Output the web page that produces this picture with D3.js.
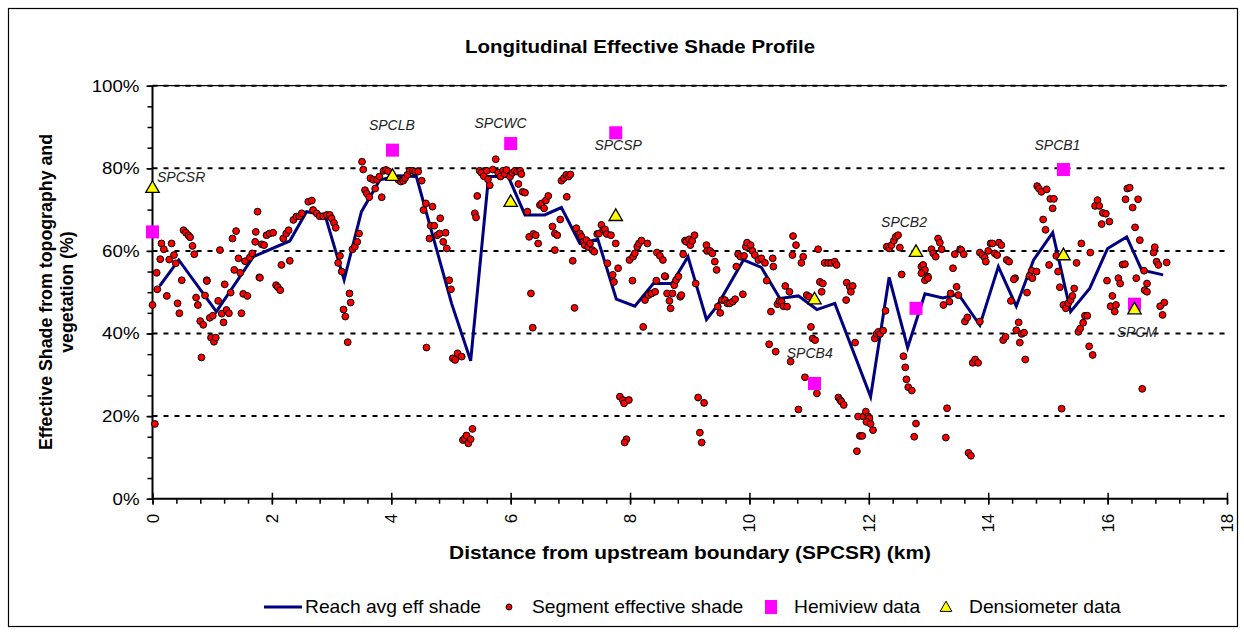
<!DOCTYPE html>
<html><head><meta charset="utf-8">
<script src="https://cdn.jsdelivr.net/npm/d3@7"></script>
<style>body{margin:0;background:#fff}svg{display:block}text{font-family:Arial,"Liberation Sans",sans-serif}</style>
</head><body><svg id="c" width="1244" height="634"></svg>
<script>
const xTicks = [0,2,4,6,8,10,12,14,16,18];
const yTicks = [0,20,40,60,80,100];
const reachLine = [[0.12,51.5],[0.44,57.8],[1.07,45.3],[1.69,58.6],[2.30,62.4],[2.58,69.5],[2.89,68.7],[3.21,53.0],[3.50,69.5],[3.81,77.2],[4.12,78.2],[4.42,78.0],[5.01,47.3],[5.33,33.4],[5.63,78.0],[5.96,78.0],[6.24,68.7],[6.57,68.7],[6.85,70.5],[7.16,61.8],[7.46,62.8],[7.77,48.3],[8.08,46.6],[8.39,52.1],[8.70,52.1],[8.97,58.6],[9.28,43.4],[9.45,46.5],[9.90,57.8],[10.20,56.0],[10.51,48.5],[10.82,49.1],[11.13,45.8],[11.43,47.3],[12.03,24.7],[12.34,53.6],[12.65,36.6],[12.94,49.6],[13.24,48.6],[13.50,49.5],[13.86,42.0],[14.17,56.2],[14.47,46.6],[14.76,57.8],[15.08,64.4],[15.38,45.3],[15.70,50.9],[16.00,60.6],[16.32,63.4],[16.57,55.4],[16.93,54.2]];
const segmentPoints = [[0.07,54.7],[0.15,61.8],[0.19,60.4],[0.13,58.0],[0.28,57.9],[0.32,61.8],[0.36,59.0],[0.39,57.0],[0.52,65.0],[0.56,64.4],[0.60,63.8],[0.63,63.3],[0.67,61.2],[0.70,59.2],[0.91,52.9],[1.13,60.2],[1.34,63.0],[1.40,64.8],[1.37,55.4],[1.47,54.7],[1.44,58.2],[1.55,57.5],[1.63,58.4],[1.67,59.4],[1.72,62.2],[1.76,69.5],[1.73,64.6],[1.79,53.6],[1.83,61.6],[1.87,61.4],[1.91,63.8],[1.96,64.2],[2.02,64.4],[2.16,56.6],[2.19,63.0],[2.24,64.2],[2.28,65.0],[2.30,57.6],[2.36,67.5],[2.41,68.3],[2.46,68.4],[2.50,69.1],[2.61,71.9],[2.67,72.2],[2.69,69.9],[2.75,69.1],[2.80,68.4],[2.86,68.4],[2.92,68.7],[2.97,68.7],[3.00,67.9],[3.04,66.8],[3.07,65.6],[3.11,57.1],[3.14,58.8],[3.17,55.0],[3.35,60.4],[3.39,61.0],[3.43,62.2],[3.46,64.2],
[0.00,46.9],[0.08,50.7],[0.04,18.1],[0.24,49.1],[0.42,47.3],[0.45,44.9],[0.49,52.9],[0.73,48.7],[0.76,46.9],[0.80,43.0],[0.85,42.1],[0.82,34.2],[0.91,52.7],[0.88,49.2],[0.96,43.8],[1.01,44.3],[0.98,39.0],[1.03,38.0],[1.06,39.0],[1.10,47.9],[1.16,44.8],[1.19,42.7],[1.21,51.9],[1.24,45.7],[1.28,44.9],[1.31,49.9],[1.49,44.9],[1.52,49.6],[1.59,49.1],[1.80,53.5],[2.07,51.7],[2.10,51.2],[2.14,50.5],[3.20,45.8],[3.23,44.1],[3.27,37.9],[3.30,49.7],[3.32,47.5],
[3.51,81.6],[3.53,79.7],[3.56,74.7],[3.59,73.9],[3.63,73.0],[3.65,77.6],[3.70,77.2],[3.73,75.1],[3.76,77.2],[3.80,78.0],[3.84,73.0],[3.87,79.4],[3.91,79.6],[3.95,79.3],[4.12,77.2],[4.16,76.8],[4.20,77.0],[4.23,77.6],[4.27,78.4],[4.31,79.4],[4.36,79.4],[4.40,79.2],[4.45,79.2],[4.51,77.0],[4.54,69.9],[4.58,71.5],[4.69,70.7],[4.64,63.0],[4.66,66.1],[4.72,66.1],[4.77,63.8],[4.82,67.9],[4.81,64.2],[4.87,62.2],[4.91,64.4],[4.93,60.6],[5.40,69.1],[5.42,68.1],[5.44,73.3],[5.48,79.4],[5.51,78.9],[5.55,78.1],[5.60,79.4],[5.62,77.3],[5.65,75.9],[5.70,79.7],[5.75,82.2],[5.79,78.9],[5.83,78.0],[5.87,79.4],[5.90,78.6],[5.93,79.6],[5.99,78.0],[6.03,78.9],[6.07,79.4],[6.11,79.2],[6.16,79.4],[6.18,78.6],[6.13,76.2],[6.20,74.3],[6.24,74.1],[6.28,69.5],[6.31,63.4],[6.38,64.1],[6.42,63.8],[6.46,61.8],[6.49,71.1],[6.52,71.5],[6.56,70.3],[6.59,72.2],[6.63,73.3],[6.70,65.9],[6.74,64.2],[6.78,63.8],[6.83,67.6],[6.85,77.0],[6.89,77.6],[6.93,78.4],[6.97,78.0],[7.00,78.5],[6.94,73.1],[6.74,60.2],[7.04,57.6],[7.10,65.5],[7.16,64.2],[7.19,63.4],[7.22,62.2],[7.24,61.4],[7.27,62.6],[7.30,60.9],[7.33,61.8],[7.37,60.2],[7.40,59.8],[7.45,64.1],[7.48,64.2],[7.52,66.3],[7.55,65.1],[7.58,65.2],[7.61,64.1],[7.62,57.0],[7.68,63.8],[7.71,54.2],[7.76,61.8],[7.80,55.8],[7.99,57.8],[8.05,58.6],[8.08,59.4],[8.12,61.0],[8.15,61.8],
[4.59,36.6],[4.97,52.9],[5.00,50.7],[5.03,34.0],[5.07,33.6],[5.11,35.2],[5.18,34.4],[5.20,14.2],[5.23,14.6],[5.26,15.3],[5.29,13.4],[5.33,14.4],[5.36,16.9],[6.34,49.7],[6.37,41.4],[7.07,46.2],[7.73,52.5],[7.83,24.7],[7.88,23.9],[7.90,23.1],[7.98,23.9],[7.94,14.4],[7.91,13.6],[8.04,52.8],
[8.19,62.5],[8.29,61.8],[8.45,59.6],[8.50,58.8],[8.55,57.8],[8.59,53.8],[8.89,59.2],[8.92,62.5],[8.94,62.2],[8.99,62.8],[9.01,61.4],[9.04,62.4],[9.08,63.8],[9.28,61.4],[9.29,60.0],[9.34,60.0],[9.38,59.4],[9.42,57.4],[9.45,55.4],[9.78,56.2],[9.81,59.2],[9.85,58.6],[9.91,58.8],[9.94,61.0],[9.96,62.0],[10.02,61.4],[10.05,60.0],[10.09,59.0],[10.15,57.8],[10.20,58.2],[10.26,57.1],[10.39,58.2],[10.40,56.2],[10.73,63.6],[10.78,61.4],[10.72,59.0],[10.87,57.1],[10.90,58.6],[11.15,60.4],[11.26,57.1],[11.32,57.1],[11.37,57.1],[11.43,57.4],[11.46,56.6],[12.30,61.0],[12.34,60.6],[12.38,61.4],[12.42,62.5],[12.45,63.4],[12.49,63.8],[12.52,60.8],[12.55,54.3],
[8.22,41.6],[8.25,48.1],[8.31,49.3],[8.36,49.7],[8.42,50.1],[8.44,52.8],[8.58,53.9],[8.62,49.7],[8.66,47.9],[8.68,46.1],[8.71,49.7],[8.74,51.7],[8.77,52.9],[8.81,53.8],[8.84,48.9],[8.86,49.3],[9.10,52.1],[9.47,46.5],[9.51,45.0],[9.54,48.1],[9.59,48.1],[9.63,47.3],[9.67,47.3],[9.72,47.7],[9.76,48.3],[9.89,49.5],[9.14,24.5],[9.24,23.2],[9.17,16.0],[9.20,13.6],[10.29,52.8],[10.36,45.3],[10.47,47.1],[10.50,47.9],[10.54,47.7],[10.57,46.6],[10.63,46.5],[10.60,51.5],[10.67,50.1],[10.33,37.4],[10.44,35.6],[10.69,33.2],[10.82,21.6],[10.93,29.4],[11.03,41.6],[11.06,38.8],[11.10,38.4],[10.96,49.3],[11.00,48.9],[11.13,25.5],[11.18,52.5],[11.23,52.1],[11.21,50.1],[11.49,24.5],[11.52,23.9],[11.54,23.5],[11.58,22.7],[11.63,52.3],[11.68,51.3],[11.73,51.5],[11.70,50.1],[11.62,48.1],[11.77,37.8],[11.80,11.5],[11.82,19.9],[11.85,15.2],[11.89,15.2],[11.91,19.9],[11.95,21.1],[11.99,19.9],[12.01,19.5],[11.96,18.6],[12.03,18.1],[12.07,16.6],[12.10,38.8],[12.13,39.9],[12.16,40.4],[12.19,39.9],[12.24,40.7],[12.28,45.5],[12.58,34.5],[12.61,31.8],[12.63,28.9],[12.66,27.0],[12.72,26.2],[12.79,18.2],[12.76,15.0],
[12.88,56.2],[12.91,56.6],[12.94,55.4],[12.99,53.8],[13.05,60.4],[13.08,59.4],[13.12,58.6],[13.16,63.0],[13.19,62.0],[13.22,60.4],[13.41,55.8],[13.44,59.2],[13.53,60.4],[13.55,60.2],[13.59,59.2],[13.86,59.6],[13.90,59.0],[13.94,58.4],[13.96,57.4],[14.00,60.0],[14.04,61.8],[14.07,61.8],[14.11,59.4],[14.15,59.0],[14.18,62.0],[14.22,61.4],[14.31,57.8],[14.35,57.4],[14.45,53.4],[14.73,55.2],[14.81,55.0],[14.82,75.7],[14.85,75.1],[14.89,74.3],[14.98,74.9],[15.04,72.6],[15.10,72.6],[15.08,70.3],[14.92,67.6],[14.96,65.1],[15.02,56.6],[15.14,58.8],[15.17,55.0],[15.48,57.1],[15.56,61.8],[15.71,59.6],[15.79,70.9],[15.83,72.3],[15.86,70.9],[15.92,69.2],[15.97,69.0],[15.90,66.5],[16.03,67.1],[16.25,56.7],[16.29,56.8],[16.30,72.5],[16.33,75.1],[16.37,75.3],[16.42,70.5],[16.51,72.5],[16.46,65.7],[16.54,62.6],[16.61,55.2],[16.77,59.6],[16.79,60.9],[16.82,57.4],[16.85,56.6],[16.99,57.2],[16.48,53.4],
[12.88,54.6],[12.94,52.9],[12.99,53.4],[13.25,46.9],[13.35,47.7],[13.37,49.7],[13.47,51.3],[13.50,49.3],[13.61,42.9],[13.65,43.9],[13.86,42.9],[13.31,21.9],[13.29,14.8],[13.67,11.1],[13.71,10.4],[13.74,32.9],[13.78,33.7],[13.83,32.9],[14.25,38.4],[14.29,39.2],[14.43,53.1],[14.38,47.9],[14.47,40.8],[14.51,42.7],[14.53,37.8],[14.56,39.9],[14.60,40.2],[14.62,33.7],[14.65,49.9],[14.69,53.9],[14.74,53.4],[15.20,51.2],[15.23,21.8],[15.26,46.9],[15.30,46.1],[15.34,47.3],[15.38,48.1],[15.41,49.1],[15.44,50.9],[15.51,40.4],[15.54,41.2],[15.59,42.6],[15.62,44.3],[15.66,44.3],[15.69,36.9],[15.75,34.8],[15.99,52.8],[16.18,53.4],[16.21,52.1],[16.08,49.1],[16.05,46.6],[16.14,46.9],[16.12,45.3],[16.66,52.1],[16.62,50.5],[16.66,50.1],[16.58,26.6],[16.88,46.6],[16.95,47.5],[16.92,44.5]];
const siteNames = ["SPCSR","SPCLB","SPCWC","SPCSP","SPCB4","SPCB2","SPCB1","SPCM"];
const siteKm = [0,4.02,6.0,7.76,11.09,12.79,15.26,16.45];
const hemiviewPct = [64.6,84.4,86.0,88.6,27.9,46.1,79.7,47.1];
const densiometerPct = [75.1,78.0,71.7,68.3,48.1,59.6,58.8,45.7];
// where each site name is written (centre of the label, in chart units)
const labelKm = [0.48,4.01,5.83,7.80,11.01,12.59,15.16,16.49];
const labelPct = [78.0,90.4,90.9,85.6,35.2,67.1,85.6,40.4];

const svg = d3.select("#c");
const L = 152.5, R = 1227, T = 85.7, B = 498.7;
const SX = 1.1; // horizontal stretch of the reference's lettering
const x = d3.scaleLinear().domain([0,18]).range([L,R]);
const y = d3.scaleLinear().domain([0,100]).range([B,T]);

function stext(g, px, py, str, size, anchor, bold) {
  return g.append("text").attr("transform",`translate(${px},${py}) scale(${SX},1)`)
    .attr("text-anchor",anchor).attr("font-size",size).attr("font-weight",bold?"bold":"normal").text(str);
}

svg.append("rect").attr("x",8.5).attr("y",8.5).attr("width",1229).attr("height",618).attr("fill","#fff").attr("stroke","#000").attr("stroke-width",1.2);

stext(svg, 640, 53, "Longitudinal Effective Shade Profile", 18.6, "middle", true);

// gridlines
svg.append("g").selectAll("line").data(yTicks.filter(d=>d>0)).join("line")
  .attr("x1",L).attr("x2",R).attr("y1",d=>y(d)).attr("y2",d=>y(d))
  .attr("stroke","#000").attr("stroke-width",2).attr("stroke-dasharray","5,6");
svg.append("line").attr("x1",L).attr("x2",R).attr("y1",y(100)).attr("y2",y(100)).attr("stroke","#000").attr("stroke-width",1.3);

// y axis minor ticks
svg.append("g").attr("transform",`translate(${L},0)`)
  .call(d3.axisLeft(y).tickValues(d3.range(0,101,5)).tickFormat("").tickSize(5))
  .call(g=>g.select(".domain").remove())
  .selectAll("line").attr("stroke-width",1.5);
// y axis
const gy = svg.append("g").attr("transform",`translate(${L},0)`)
  .call(d3.axisLeft(y).tickValues(yTicks).tickFormat(d=>d+"%").tickSize(6).tickPadding(7));
gy.select(".domain").attr("stroke-width",2).attr("d",`M0,${T}V${B}`);
gy.selectAll(".tick line").attr("stroke-width",1.5);
gy.selectAll("text").attr("font-size",17).attr("font-family","Arial,'Liberation Sans',sans-serif").attr("fill","#000")
  .attr("transform",`scale(${SX},1)`).attr("x",-13/SX);

// x axis
svg.append("g").attr("transform",`translate(0,${B})`)
  .call(d3.axisBottom(x).tickValues(d3.range(0,18.01,0.4)).tickFormat("").tickSize(5))
  .call(g=>g.select(".domain").remove())
  .selectAll("line").attr("stroke-width",1.5);
svg.append("g").attr("transform",`translate(0,${B})`)
  .call(d3.axisBottom(x).tickValues(xTicks).tickFormat("").tickSize(6))
  .call(g=>g.select(".domain").remove())
  .selectAll("line").attr("y1",-6).attr("stroke-width",1.5);
const gx = svg.append("g").attr("transform",`translate(0,${B})`);
gx.append("line").attr("x1",L).attr("x2",R).attr("stroke","#000").attr("stroke-width",2);
gx.selectAll(".xl").data(xTicks).join("text").attr("class","xl")
  .attr("transform",d=>`translate(${x(d)+6},15) rotate(-90)`).attr("text-anchor","end")
  .attr("font-size",17).text(d=>d);

// reach avg line
svg.append("path").datum(reachLine).attr("fill","none").attr("stroke","#000080").attr("stroke-width",3)
  .attr("d",d3.line().x(d=>x(d[0])).y(d=>y(d[1])));

// segment points
svg.append("g").selectAll("circle").data(segmentPoints).join("circle")
  .attr("cx",d=>x(d[0])).attr("cy",d=>y(d[1])).attr("r",3.4)
  .attr("fill","#ff0000").attr("stroke","#000").attr("stroke-width",1);

// hemiview squares
svg.append("g").selectAll("rect").data(siteKm).join("rect")
  .attr("x",d=>x(d)-6.5).attr("y",(d,i)=>y(hemiviewPct[i])-6.5).attr("width",13).attr("height",13)
  .attr("fill","#ff00ff");

// densiometer triangles
const tri = d3.symbol().type(d3.symbolTriangle).size(78);
svg.append("g").selectAll("path").data(siteKm).join("path")
  .attr("transform",(d,i)=>`translate(${x(d)},${y(densiometerPct[i])})`).attr("d",tri)
  .attr("fill","#ffff00").attr("stroke","#000").attr("stroke-width",1.3);

// site labels
svg.append("g").selectAll("text").data(siteNames).join("text")
  .attr("x",(d,i)=>x(labelKm[i])).attr("y",(d,i)=>y(labelPct[i])).attr("dy","0.36em")
  .attr("font-style","italic").attr("font-size",14).attr("text-anchor","middle").attr("fill","#222").text(d=>d);

// axis titles
stext(svg, 690, 559, "Distance from upstream boundary (SPCSR) (km)", 19, "middle", true);
const yt = svg.append("text").attr("transform","translate(0,292) rotate(-90)").attr("text-anchor","middle").attr("font-weight","bold").attr("font-size",17.8);
yt.append("tspan").attr("x",0).attr("y",52).text("Effective Shade from topography and");
yt.append("tspan").attr("x",0).attr("y",73).text("vegetation (%)");

// legend
const lg = svg.append("g");
const ly = 607;
lg.append("line").attr("x1",264).attr("x2",302).attr("y1",ly).attr("y2",ly).attr("stroke","#000080").attr("stroke-width",3);
stext(lg, 305, ly+6, "Reach avg eff shade", 17.5, "start");
lg.append("circle").attr("cx",509).attr("cy",ly).attr("r",3).attr("fill","#ff0000").attr("stroke","#000");
stext(lg, 532, ly+6, "Segment effective shade", 17.5, "start");
lg.append("rect").attr("x",765).attr("y",ly-7).attr("width",12).attr("height",14).attr("fill","#ff00ff");
stext(lg, 794, ly+6, "Hemiview data", 17.5, "start");
lg.append("path").attr("transform",`translate(946,${ly+1})`).attr("d",d3.symbol().type(d3.symbolTriangle).size(60)).attr("fill","#ffff00").attr("stroke","#000");
stext(lg, 969, ly+6, "Densiometer data", 17.5, "start");
</script></body></html>
